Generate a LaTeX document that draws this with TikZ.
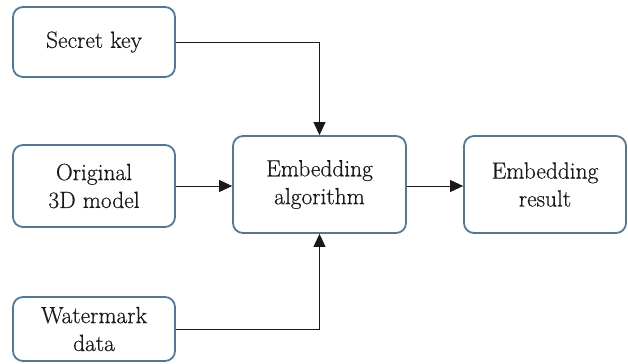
\documentclass[tikz,border=0pt]{standalone}
\usepackage{fontspec}
\newfontfamily\boxfont{Latin Modern Roman}[FakeBold=0.5]
\usetikzlibrary{arrows.meta}
\definecolor{boxblue}{RGB}{80,120,158}
\definecolor{txt}{RGB}{25,25,25}
\tikzset{
  blockbox/.style={draw=boxblue, line width=1.8pt, rounded corners=10pt, fill=white,
    inner sep=0pt, align=center, text=txt, font=\boxfont\fontsize{23.5}{28}\selectfont},
  flow/.style={draw=black!90, line width=0.9pt, -{Triangle[length=13pt,width=12pt]}}
}
\begin{document}
\begin{tikzpicture}[x=1bp,y=-1bp]
\useasboundingbox (0,0) rectangle (628,363);
\node[blockbox, minimum width=162bp, minimum height=70bp] (key) at (94,42) {Secret key};
\node[blockbox, minimum width=162bp, minimum height=82bp] (orig) at (94,186) {Original\\3D model};
\node[blockbox, minimum width=173bp, minimum height=97bp] (algo) at (319.5,184.5) {Embedding\\algorithm};
\node[blockbox, minimum width=162bp, minimum height=97bp] (res) at (545,184.5) {Embedding\\result};
\node[blockbox, minimum width=162bp, minimum height=64bp] (wm) at (94,329) {Watermark\\data};
\draw[flow] (key.east) -| (algo.north);
\draw[flow] (orig.east) -- (algo.west |- orig.east);
\draw[flow] (algo.east |- orig.east) -- (res.west |- orig.east);
\draw[flow] (wm.east) -| (algo.south);
\end{tikzpicture}
\end{document}
